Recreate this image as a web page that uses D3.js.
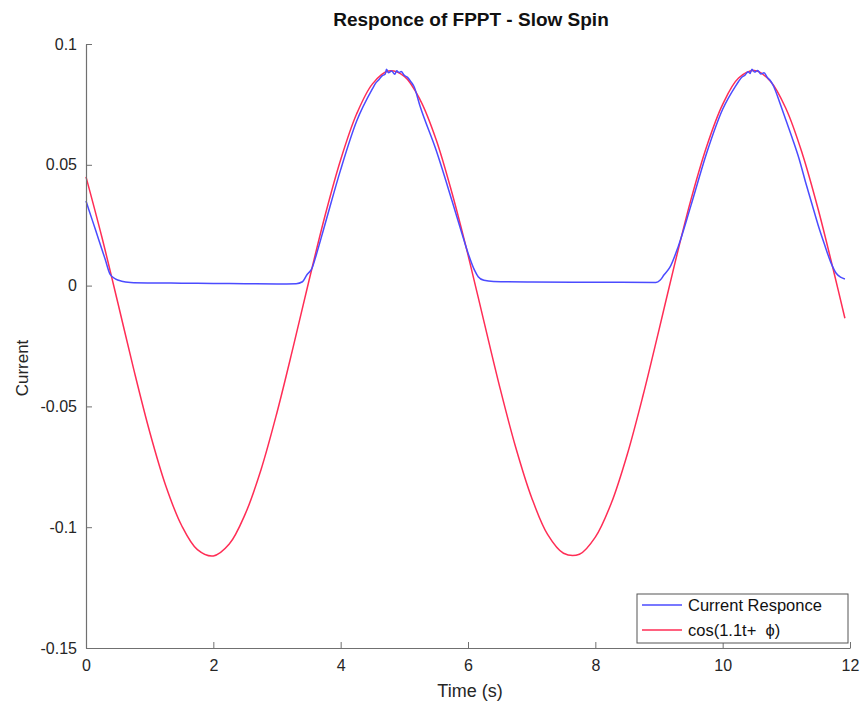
<!DOCTYPE html>
<html>
<head>
<meta charset="utf-8">
<script src="https://cdn.jsdelivr.net/npm/d3@7"></script>
<style>
  body { margin: 0; background: #fff; }
  svg { font-family: "Liberation Sans", Arial, sans-serif; }
</style>
</head>
<body>
<svg></svg>
<script>
const width = 866;
const height = 704;

// fitted cosine
const fitTime = [0, 0.25, 0.5, 0.75, 1, 1.25, 1.5, 1.75, 2, 2.25, 2.5, 2.75, 3, 3.25, 3.5, 3.75,
	4, 4.25, 4.5, 4.75, 5, 5.25, 5.5, 5.75, 6, 6.25, 6.5, 6.75, 7, 7.25, 7.5, 7.75,
	8, 8.25, 8.5, 8.75, 9, 9.25, 9.5, 9.75, 10, 10.25, 10.5, 10.75, 11, 11.25, 11.5, 11.75, 11.92];
const fitValues = [0.045, 0.020, -0.0071, -0.0347, -0.0605, -0.0826, -0.0992, -0.1093, -0.1119, -0.1070,
	-0.0946, -0.0761, -0.0525, -0.0259, 0.0018, 0.0285, 0.0521, 0.0710, 0.0835, 0.0888,
	0.0866, 0.0768, 0.0604, 0.0382, 0.0127, -0.0148, -0.0421, -0.0670, -0.0878, -0.1030,
	-0.1108, -0.1112, -0.1041, -0.0901, -0.0700, -0.0454, -0.0183, 0.0093, 0.0354, 0.0577,
	0.0750, 0.0859, 0.0890, 0.0846, 0.0729, 0.0547, 0.0316, 0.0052, -0.0135];

// measured current
const respTime = [0, 0.1, 0.2, 0.3, 0.38, 0.46, 0.56, 0.7, 1, 1.5, 2, 2.5, 3, 3.3, 3.4, 3.47, 3.55,
	3.62, 3.75, 4, 4.25, 4.5, 4.55, 4.6, 4.65, 4.7, 4.72, 4.75, 4.8, 4.85, 4.88, 4.92, 4.95,
	5, 5.05, 5.1, 5.15, 5.25, 5.5, 5.75, 5.9, 6, 6.1, 6.16, 6.25, 6.4, 7, 8, 8.95, 9.02,
	9.08, 9.17, 9.3, 9.5, 9.75, 10, 10.2, 10.25, 10.3, 10.35, 10.4, 10.43, 10.46, 10.5,
	10.55, 10.6, 10.65, 10.7, 10.75, 10.8, 10.9, 11, 11.1, 11.2, 11.3, 11.4, 11.5, 11.6,
	11.7, 11.78, 11.86, 11.92];
const respValues = [0.035, 0.027, 0.019, 0.011, 0.0046, 0.0028, 0.0018, 0.0013, 0.0011, 0.001, 0.0009,
	0.0008, 0.0007, 0.0008, 0.0016, 0.0045, 0.0072, 0.013, 0.025, 0.048, 0.068, 0.0815, 0.0838,
	0.0852, 0.0868, 0.0876, 0.0895, 0.0881, 0.0888, 0.0875, 0.0889, 0.0882, 0.0886, 0.0870,
	0.0862, 0.0845, 0.0825, 0.074, 0.056, 0.035, 0.022, 0.0135, 0.0065, 0.0037, 0.0022, 0.0017,
	0.0015, 0.0014, 0.0013, 0.0023, 0.0045, 0.0075, 0.016, 0.033, 0.055, 0.073, 0.0825, 0.0845,
	0.0862, 0.0871, 0.0885, 0.0878, 0.0896, 0.0884, 0.0890, 0.0876, 0.0881, 0.0862, 0.0848,
	0.0825, 0.0755, 0.068, 0.0605, 0.0525, 0.043, 0.034, 0.025, 0.017, 0.0095, 0.0052,
	0.0034, 0.0027];

const xTicks = [0, 2, 4, 6, 8, 10, 12];
const yTicks = [-0.15, -0.1, -0.05, 0, 0.05, 0.1];
const yTickLabels = ['-0.15', '-0.1', '-0.05', '0', '0.05', '0.1'];
const legendLabels = ['Current Responce', 'cos(1.1t+  \u03D5)'];

const blue = '#4b4bff';
const red = '#ff2d55';
const axisGrey = '#707070';

const margin = { top: 44, right: 16, bottom: 56, left: 86 };
const innerW = width - margin.left - margin.right;
const innerH = height - margin.top - margin.bottom;

const svg = d3.select('svg')
	.attr('width', width)
	.attr('height', height);

const x = d3.scaleLinear().domain([0, 12]).range([0, innerW]);
const y = d3.scaleLinear().domain([-0.15, 0.1]).range([innerH, 0]);

const g = svg.append('g')
	.attr('transform', `translate(${margin.left},${margin.top})`);

const fitLine = d3.line()
	.x(d => x(d[0]))
	.y(d => y(d[1]))
	.curve(d3.curveCatmullRom);

const respLine = d3.line()
	.x(d => x(d[0]))
	.y(d => y(d[1]))
	.curve(d3.curveMonotoneX);

const fitData = fitTime.map((t, i) => [t, fitValues[i]]);
const respData = respTime.map((t, i) => [t, respValues[i]]);

g.append('path')
	.datum(fitData)
	.attr('fill', 'none')
	.attr('stroke', red)
	.attr('stroke-width', 1.5)
	.attr('d', fitLine);

g.append('path')
	.datum(respData)
	.attr('fill', 'none')
	.attr('stroke', blue)
	.attr('stroke-width', 1.5)
	.attr('d', respLine);

// axes, ticks pointing inward like matlab
const yAxis = d3.axisLeft(y)
	.tickValues(yTicks)
	.tickFormat((d, i) => yTickLabels[i])
	.tickSizeInner(-6)
	.tickSizeOuter(0)
	.tickPadding(9);

const xAxis = d3.axisBottom(x)
	.tickValues(xTicks)
	.tickSizeInner(-6)
	.tickSizeOuter(0)
	.tickPadding(12);

const yG = g.append('g').call(yAxis);
const xG = g.append('g').attr('transform', `translate(0,${innerH})`).call(xAxis);

[xG, yG].forEach(a => {
	a.select('.domain').attr('stroke', axisGrey).attr('stroke-width', 1.2);
	a.selectAll('.tick line').attr('stroke', axisGrey);
	a.selectAll('.tick text')
		.attr('fill', '#262626')
		.style('font-size', '16px')
		.style('font-family', '"Liberation Sans", Arial, sans-serif');
});

// title and axis labels
svg.append('text')
	.attr('x', margin.left + innerW / 2 + 3)
	.attr('y', 26)
	.attr('text-anchor', 'middle')
	.style('font-size', '19px')
	.style('font-weight', 'bold')
	.attr('fill', '#111')
	.text('Responce of FPPT - Slow Spin');

svg.append('text')
	.attr('x', margin.left + innerW / 2 + 2)
	.attr('y', 697)
	.attr('text-anchor', 'middle')
	.style('font-size', '18px')
	.attr('fill', '#262626')
	.text('Time (s)');

svg.append('text')
	.attr('transform', `translate(28,${margin.top + innerH / 2 + 22}) rotate(-90)`)
	.attr('text-anchor', 'middle')
	.style('font-size', '17px')
	.attr('fill', '#262626')
	.text('Current');

// legend
const legend = svg.append('g').attr('transform', 'translate(637,594)');
legend.append('rect')
	.attr('width', 211)
	.attr('height', 49)
	.attr('fill', '#fff')
	.attr('stroke', '#555')
	.attr('stroke-width', 1);

const items = legend.selectAll('g.item')
	.data(legendLabels)
	.enter().append('g')
	.attr('class', 'item')
	.attr('transform', (d, i) => `translate(0,${11 + i * 25})`);

items.append('line')
	.attr('x1', 5)
	.attr('x2', 45)
	.attr('stroke', (d, i) => i === 0 ? blue : red)
	.attr('stroke-width', 1.5);

items.append('text')
	.attr('x', 51)
	.attr('dy', '0.35em')
	.style('font-size', '16.5px')
	.style('white-space', 'pre')
	.attr('fill', '#111')
	.text(d => d);
</script>
</body>
</html>
